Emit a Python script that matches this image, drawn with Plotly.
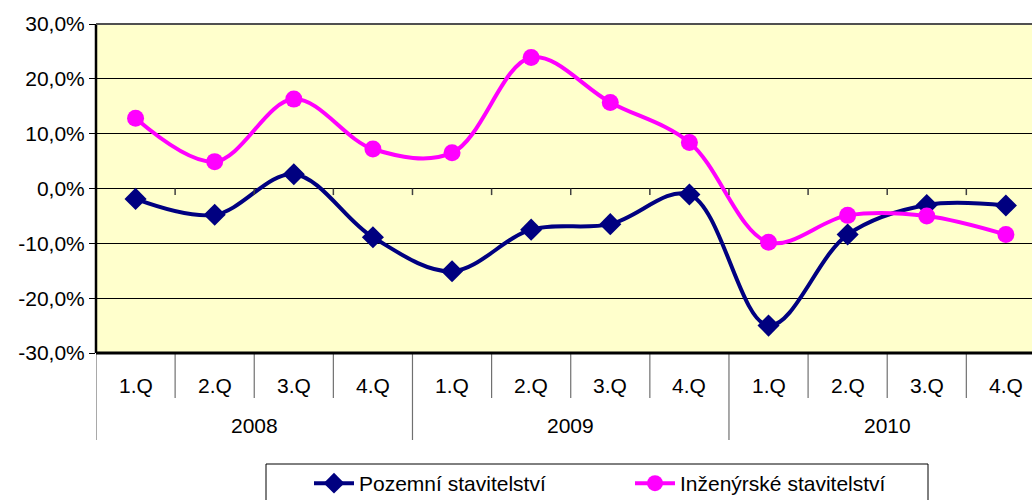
import plotly.graph_objects as go

quarters = ["1.Q", "2.Q", "3.Q", "4.Q"] * 3
years = ["2008", "2009", "2010"]
pozemni = [-1.9, -4.8, 2.6, -8.9, -15.1, -7.5, -6.5, -1.1, -25.0, -8.4, -3.0, -3.1]
inzenyrske = [12.8, 4.9, 16.3, 7.2, 6.5, 23.9, 15.7, 8.4, -9.8, -4.9, -5.0, -8.4]
yticks = [-30, -20, -10, 0, 10, 20, 30]
ytext = ["-30,0%", "-20,0%", "-10,0%", "0,0%", "10,0%", "20,0%", "30,0%"]

FONT = "Liberation Sans, Arial, sans-serif"
FS = 21
x = list(range(len(quarters)))

fig = go.Figure()
fig.add_trace(go.Scatter(
    x=x, y=pozemni, name="Pozemní stavitelství", mode="lines+markers",
    line=dict(color="#000080", width=4, shape="spline", smoothing=1.0),
    marker=dict(symbol="diamond", size=17, color="#000080"),
))
fig.add_trace(go.Scatter(
    x=x, y=inzenyrske, name="Inženýrské stavitelství", mode="lines+markers",
    line=dict(color="#FF00FF", width=4, shape="spline", smoothing=1.0),
    marker=dict(symbol="circle", size=17, color="#FF00FF"),
))

L, T = 96, 24
PH = 329.0
PW = 1032.0 - L
B = 500 - T - int(PH)

def py(pix):
    return (353 - pix) / PH
def px(pix):
    return (pix - 96) / PW

shapes = []
n = len(quarters)
for k in range(n + 1):
    is_year = (k % 4 == 0)
    shapes.append(dict(type="line", xref="x", yref="paper", x0=k - 0.5, x1=k - 0.5,
                       y0=0, y1=py(440) if is_year else py(398),
                       line=dict(color="#707070", width=1.2)))
for k in range(n):
    shapes.append(dict(type="line", xref="x", yref="y", x0=k + 0.5, x1=k + 0.5,
                       y0=0, y1=-1.2, line=dict(color="#404040", width=1.5)))
shapes.append(dict(type="line", xref="paper", yref="paper", x0=0, x1=0, y0=0, y1=1,
                   line=dict(color="black", width=2.5)))
shapes.append(dict(type="line", xref="paper", yref="paper", x0=0, x1=1, y0=1, y1=1,
                   line=dict(color="#505050", width=2)))
shapes.append(dict(type="line", xref="paper", yref="paper", x0=0, x1=1, y0=0, y1=0,
                   line=dict(color="black", width=3)))
shapes.append(dict(type="rect", xref="paper", yref="paper", x0=px(266), x1=px(928),
                   y0=py(464), y1=py(530), line=dict(color="black", width=1),
                   fillcolor="rgba(0,0,0,0)"))

annotations = []
for i, q in enumerate(quarters):
    annotations.append(dict(x=i, y=py(385), xref="x", yref="paper", text=q, showarrow=False,
                            font=dict(family=FONT, size=FS, color="black"),
                            xanchor="center", yanchor="middle"))
for j, yr in enumerate(years):
    annotations.append(dict(x=4 * j + 1.5, y=py(426), xref="x", yref="paper", text=yr,
                            showarrow=False, font=dict(family=FONT, size=FS, color="black"),
                            xanchor="center", yanchor="middle"))

fig.update_layout(
    width=1032, height=500,
    margin=dict(l=L, r=0, t=T, b=B, autoexpand=False),
    paper_bgcolor="white", plot_bgcolor="#FFFFCC",
    font=dict(family=FONT, size=FS, color="black"),
    shapes=shapes, annotations=annotations,
    showlegend=True,
    legend=dict(orientation="h", x=px(309), y=py(463), xanchor="left", yanchor="top",
                borderwidth=0, bgcolor="rgba(0,0,0,0)",
                font=dict(family=FONT, size=21), entrywidth=266, entrywidthmode="pixels",
                itemwidth=40),
)
fig.update_xaxes(range=[-0.5, 11.33], showgrid=False, showticklabels=False, ticks="",
                 zeroline=False, showline=False, fixedrange=True, automargin=False)
fig.update_yaxes(range=[-30, 30], tickvals=yticks, ticktext=ytext, showgrid=True,
                 gridcolor="black", gridwidth=1, ticks="outside", ticklen=6,
                 tickcolor="black", zeroline=False, showline=False, automargin=False,
                 tickfont=dict(family=FONT, size=FS), fixedrange=True)

fig.write_html(
    "out.html",
    config={"displayModeBar": False},
    post_script="document.body.style.margin='0';document.body.style.overflow='hidden';",
)
